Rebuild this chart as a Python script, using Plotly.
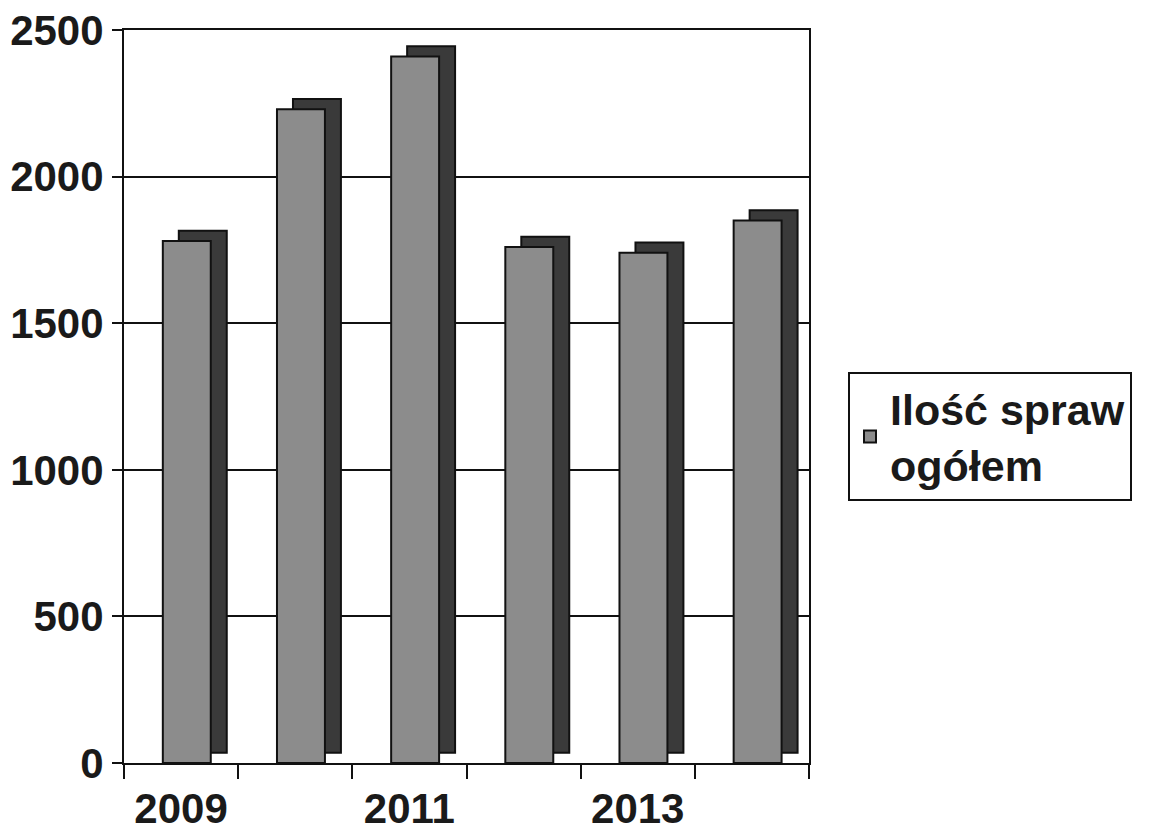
import plotly.graph_objects as go

years = ["2009", "2010", "2011", "2012", "2013", "2014"]
cases = [1780, 2230, 2410, 1760, 1740, 1850]
tick_text = ["2009", "", "2011", "", "2013", ""]
y_ticks = [0, 500, 1000, 1500, 2000, 2500]
series_name = "Ilość spraw<br>ogółem"

FONT = "Liberation Sans"

fig = go.Figure()
# dark back copy -> gives the side/top faces of 3D bars
fig.add_trace(go.Bar(
    x=years, y=cases, base=[35] * len(years),
    width=0.42, offset=-0.02,
    marker=dict(color="#3a3a3a", line=dict(color="#111111", width=2)),
    showlegend=False, hoverinfo="skip",
))
fig.add_trace(go.Bar(
    x=years, y=cases, name=series_name,
    width=0.42, offset=-0.16,
    marker=dict(color="#8c8c8c", line=dict(color="#111111", width=2)),
))

fig.update_layout(
    width=1169, height=839,
    margin=dict(l=124, r=360, t=30, b=76, autoexpand=False),
    barmode="overlay",
    paper_bgcolor="white", plot_bgcolor="white",
    font=dict(family=FONT, size=42, color="#1a1a1a", weight="bold"),
    showlegend=True,
    legend=dict(
        xref="container", yref="container",
        x=848 / 1169, y=1 - 372 / 839, xanchor="left", yanchor="top",
        bordercolor="#111111", borderwidth=2, bgcolor="white",
        font=dict(family=FONT, size=43, weight="bold", color="#1a1a1a"),
        itemsizing="constant",
    ),
)
fig.update_xaxes(
    type="category", automargin=False,
    tickvals=years, ticktext=tick_text,
    tickson="boundaries", ticks="outside", ticklen=14, tickwidth=2, tickcolor="#111111",
    ticklabelstandoff=8,
    showline=True, linecolor="#111111", linewidth=2, mirror=True,
    showgrid=False,
    tickfont=dict(family=FONT, size=42, weight="bold", color="#1a1a1a"),
)
fig.update_yaxes(
    automargin=False,
    range=[0, 2500], tickvals=y_ticks,
    ticks="outside", ticklen=10, tickwidth=2, tickcolor="#111111",
    showline=True, linecolor="#111111", linewidth=2, mirror=True,
    showgrid=True, gridcolor="#111111", gridwidth=2,
    zeroline=False,
    tickfont=dict(family=FONT, size=42, weight="bold", color="#1a1a1a"),
)

fig.write_html("out.html")
